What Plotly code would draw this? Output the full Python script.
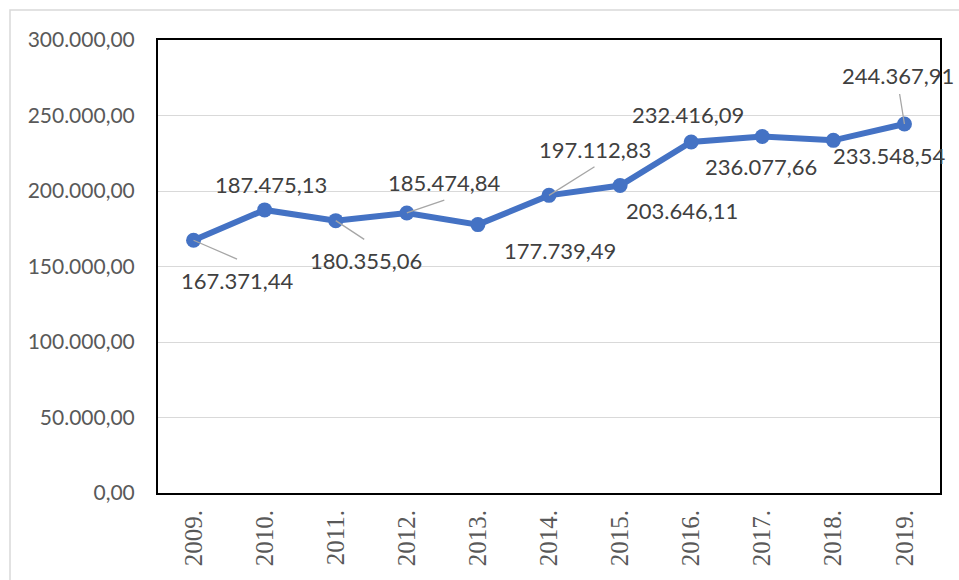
import plotly.graph_objects as go

years = ["2009.", "2010.", "2011.", "2012.", "2013.", "2014.", "2015.", "2016.", "2017.", "2018.", "2019."]
values = [167371.44, 187475.13, 180355.06, 185474.84, 177739.49, 197112.83,
          203646.11, 232416.09, 236077.66, 233548.54, 244367.91]
y_ticks = [0, 50000, 100000, 150000, 200000, 250000, 300000]

# label offsets in pixels (dx right, dy down) and leader line end offsets (or None)
label_dx = [44, 6, 30, 38, 82, 46, 62, -3, -1, 56, -6]
label_dy = [40, -25, 40, -30, 26, -46, 25, -28, 30, 15, -49]
leader = [(44, 19), None, (29, 19), (38, -13), None, (46, -29), None, None, None, None, (-5, -31)]


def fmt(v):
    s = f"{v:,.2f}"
    return s.replace(",", "X").replace(".", ",").replace("X", ".")


W, H = 959, 580
L, R, T, B = 158, 19, 40, 87
pw, ph = W - L - R, H - T - B

fig = go.Figure()
fig.add_trace(go.Scatter(
    x=years, y=values, mode="lines+markers",
    line=dict(color="#4472C4", width=6),
    marker=dict(color="#4472C4", size=15),
    hoverinfo="skip", showlegend=False,
))

for i, v in enumerate(values):
    if leader[i] is not None:
        fig.add_annotation(
            x=i, y=v, xref="x", yref="y", text=" ", showarrow=True,
            ax=leader[i][0], ay=leader[i][1],
            arrowhead=0, arrowwidth=1.3, arrowcolor="#A6A6A6",
            standoff=0, startstandoff=0, borderpad=0,
            font=dict(size=1),
        )
    fig.add_annotation(
        x=i, y=v, xref="x", yref="y", text=fmt(v), showarrow=False,
        xshift=label_dx[i], yshift=-label_dy[i],
        font=dict(family="Lato", size=22, color="#404040"),
    )

fig.update_layout(
    width=W, height=H,
    margin=dict(l=L, r=R, t=T, b=B),
    paper_bgcolor="white", plot_bgcolor="white",
    separators=",.",
    shapes=[dict(type="rect", xref="paper", yref="paper",
                 x0=(10 - L) / pw, x1=(990 - L) / pw,
                 y0=(H - B - 620) / ph, y1=(H - B - 10) / ph,
                 line=dict(color="#D9D9D9", width=1.5), layer="below")],
    xaxis=dict(
        type="category", showgrid=False, showline=True, mirror=True,
        linecolor="black", linewidth=2, ticks="", tickangle=-90,
        ticklabelstandoff=5,
        tickfont=dict(family="Liberation Serif", size=25, color="#595959"),
        range=[-0.5, len(years) - 0.5],
    ),
    yaxis=dict(
        range=[0, 300000], tickvals=y_ticks, tickformat=",.2f",
        showgrid=True, gridcolor="#D9D9D9", gridwidth=1,
        showline=True, mirror=True, linecolor="black", linewidth=2,
        zeroline=False, ticks="", ticklabelstandoff=17,
        tickfont=dict(family="Lato", size=21, color="#595959"),
    ),
)

fig.write_html("out.html", post_script="document.body.style.margin='0';",
               config={"displayModeBar": False})
